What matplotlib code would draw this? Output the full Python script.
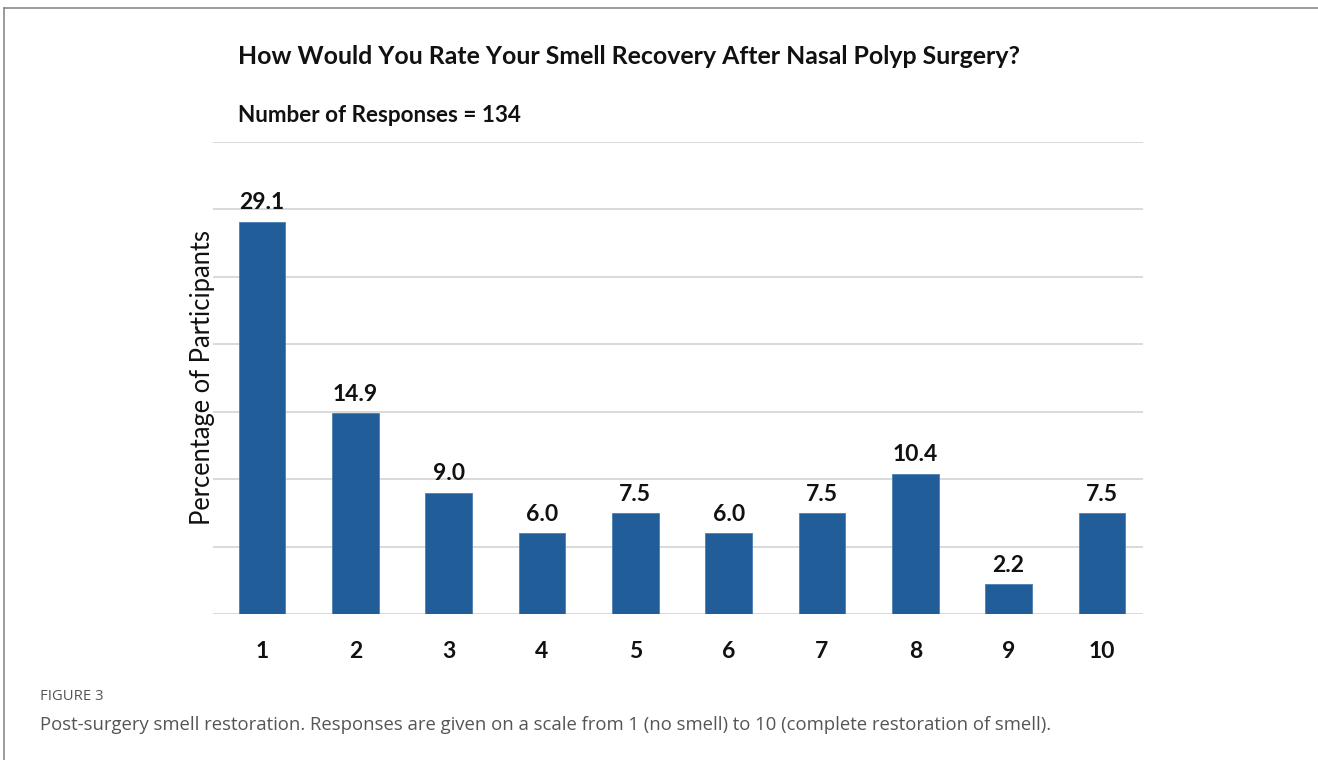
import matplotlib
matplotlib.use("Agg")
import matplotlib.pyplot as plt

categories = ["1", "2", "3", "4", "5", "6", "7", "8", "9", "10"]
values = [29.1, 14.9, 9.0, 6.0, 7.5, 6.0, 7.5, 10.4, 2.2, 7.5]
yticks = [0, 5, 10, 15, 20, 25, 30, 35]

W, H = 1318, 760
fig = plt.figure(figsize=(W / 100, H / 100), dpi=100)
fig.patch.set_facecolor("white")

# frame (top & left border)
fig.add_artist(plt.Line2D([4 / W, 4 / W], [0, 1 - 8 / H], color="#8a8a8a", lw=1.2, transform=fig.transFigure))
fig.add_artist(plt.Line2D([4 / W, 1], [1 - 8 / H, 1 - 8 / H], color="#8a8a8a", lw=1.2, transform=fig.transFigure))

left, right, top, bottom = 213, 1143, 142, 614
ax = fig.add_axes([left / W, 1 - bottom / H, (right - left) / W, (bottom - top) / H])
x = list(range(1, len(categories) + 1))
ax.bar(x, values, width=0.5, color="#215E99", edgecolor="#4a7fb5", linewidth=0.6, zorder=3)
ax.set_xlim(0.475, 10.44)
ax.set_ylim(0, 35)
ax.set_yticks(yticks)
ax.yaxis.grid(True, color="#d9d9d9", lw=1.4, zorder=0)
ax.tick_params(axis="y", left=False, labelleft=False)
ax.tick_params(axis="x", bottom=False, pad=16)
ax.set_xticks(x)
ax.set_xticklabels(categories, fontfamily="Lato", fontweight="bold", fontsize=16.5, color="#111111")
for s in ax.spines.values():
    s.set_visible(False)

for xi, v in zip(x, values):
    ax.annotate(f"{v:.1f}", (xi, v), xytext=(0, 6), textcoords="offset points",
                ha="center", va="bottom", fontfamily="Lato", fontweight="bold",
                fontsize=16.5, color="#111111")

ax.set_ylabel("Percentage of Participants", fontfamily="Lato", fontsize=18.4, color="#111111")
ax.yaxis.set_label_coords(0.002, 0.5)

fig.text(238 / W, 1 - 56 / H, "How Would You Rate Your Smell Recovery After Nasal Polyp Surgery?",
         fontfamily="Lato", fontweight="bold", fontsize=17.9, color="#111111", va="center", ha="left")
fig.text(238 / W, 1 - 116 / H, "Number of Responses = 134",
         fontfamily="Lato", fontweight="bold", fontsize=16.2, color="#111111", va="center", ha="left")

fig.text(40 / W, 1 - 697 / H, "FIGURE 3", fontfamily="Open Sans", fontsize=10.7, color="#555555", va="center")
fig.text(40 / W, 1 - 725 / H,
         "Post-surgery smell restoration. Responses are given on a scale from 1 (no smell) to 10 (complete restoration of smell).",
         fontfamily="Open Sans", fontsize=13.3, color="#555555", va="center")

fig.savefig("out.png", dpi=100)
